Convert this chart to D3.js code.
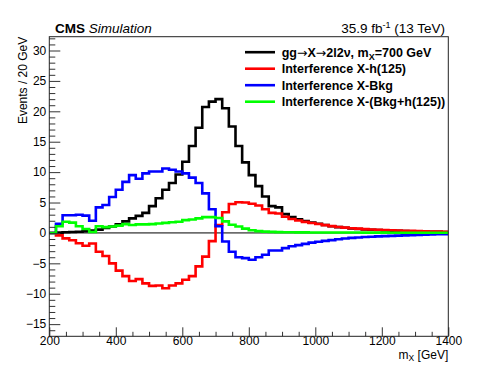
<!DOCTYPE html>
<html>
<head>
<meta charset="utf-8">
<script src="https://cdn.jsdelivr.net/npm/d3@7"></script>
<style>
  body { margin: 0; background: #fff; }
  svg { display: block; font-family: "Liberation Sans", Arial, Helvetica, sans-serif; }
</style>
</head>
<body>
<div class="chart"></div>
<script>
const W = 498
const H = 375
const margin = ({top: 36.7, right: 49.7, bottom: 38.7, left: 49.3})
const width = W - margin.left - margin.right
const height = H - margin.top - margin.bottom

// bins of 20 GeV from 200 to 1400
const binLow = 200
const binWidth = 20

const signal = [0, 0.05, 0.1, 0.15, 0.2, 0.27, 0.4, 0.55, 0.8, 1.05,
  1.4, 1.9, 2.4, 2.8, 3.3, 4.4, 5.7, 7.1, 8.2, 9.6,
  11.7, 14.3, 17.3, 20.7, 21.6, 22.0, 20.5, 17.5, 14.3, 11.6,
  9.5, 7.7, 6.0, 4.4, 4.2, 3.1, 2.6, 2.25, 1.95, 1.7,
  1.5, 1.3, 1.1, 0.95, 0.85, 0.75, 0.65, 0.58, 0.52, 0.47,
  0.42, 0.38, 0.34, 0.31, 0.28, 0.25, 0.22, 0.2, 0.18, 0.16]

const interfH = [0, -0.4, -0.9, -1.2, -1.7, -2.1, -1.75, -3.1, -3.8, -5.0,
  -6.2, -7.1, -7.9, -7.6, -8.3, -8.7, -8.65, -9.1, -8.65, -8.3,
  -7.7, -7.1, -5.5, -3.9, -1.35, 1.3, 3.4, 4.75, 5.05, 5.0,
  4.8, 4.5, 3.9, 3.3, 3.2, 2.65, 2.3, 2.05, 1.82, 1.64,
  1.47, 1.28, 1.12, 0.97, 0.87, 0.78, 0.7, 0.62, 0.57, 0.52,
  0.48, 0.44, 0.4, 0.36, 0.33, 0.3, 0.27, 0.24, 0.22, 0.2]

const interfBkg = [0, 1.5, 2.9, 2.9, 3.0, 2.85, 2.0, 4.2, 4.6, 5.9,
  7.1, 8.4, 9.5, 8.9, 9.8, 10.1, 10.1, 10.6, 10.4, 10.1,
  9.8, 9.1, 8.2, 6.5, 3.9, 1.1, -1.4, -3.1, -4.0, -4.15,
  -4.4, -4.0, -3.6, -2.9, -2.9, -2.5, -2.2, -2.0, -1.8, -1.6,
  -1.45, -1.3, -1.18, -1.05, -0.92, -0.82, -0.74, -0.68, -0.62, -0.57,
  -0.52, -0.48, -0.44, -0.4, -0.36, -0.32, -0.28, -0.25, -0.22, -0.2]

const interfBoth = [0, 1.1, 1.85, 1.7, 1.1, 0.65, 0.15, 1.1, 0.95, 1.05,
  1.2, 1.45, 1.3, 1.4, 1.4, 1.45, 1.55, 1.65, 1.75, 1.85,
  2.1, 2.2, 2.4, 2.6, 2.6, 2.45, 1.9, 1.35, 1.05, 0.7,
  0.45, 0.3, 0.22, 0.17, 0.14, 0.12, 0.1, 0.09, 0.09, 0.08,
  0.08, 0.07, 0.07, 0.07, 0.06, 0.06, 0.06, 0.05, 0.05, 0.05,
  0.05, 0.04, 0.04, 0.04, 0.04, 0.04, 0.03, 0.03, 0.03, 0.03]

const seriesNames = ["signal", "interfH", "interfBkg", "interfBoth"]
const seriesColors = ["#000000", "#ff0000", "#0000ff", "#00ff00"]
const seriesValues = [signal, interfH, interfBkg, interfBoth]

const xTicks = [200, 400, 600, 800, 1000, 1200, 1400]
const yTicks = [-15, -10, -5, 0, 5, 10, 15, 20, 25, 30]

const svg = d3.select(".chart").append("svg")
    .attr("width", W)
    .attr("height", H)

const g = svg.append("g")
    .attr("transform", `translate(${margin.left},${margin.top})`)

const xScale = d3.scaleLinear().domain([200, 1400]).range([0, width])
const yScale = d3.scaleLinear().domain([-17.0, 32.27]).range([height, 0])

svg.append("defs").append("clipPath").attr("id", "plot")
    .append("rect").attr("width", width).attr("height", height)

// zero line
g.append("line")
    .attr("x1", 0).attr("x2", width)
    .attr("y1", yScale(0)).attr("y2", yScale(0))
    .attr("stroke", "#000").attr("stroke-width", 1)

const stepLine = d3.line()
    .x(d => xScale(d[0]))
    .y(d => yScale(d[1]))
    .curve(d3.curveStepAfter)

const hists = g.append("g").attr("clip-path", "url(#plot)")
seriesValues.forEach((vals, k) => {
    const pts = vals.map((v, i) => [binLow + i*binWidth, v])
    pts.push([binLow + vals.length*binWidth, vals[vals.length-1]])
    hists.append("path")
        .datum(pts)
        .attr("class", seriesNames[k])
        .attr("fill", "none")
        .attr("stroke", seriesColors[k])
        .attr("stroke-width", 2.6)
        .attr("d", stepLine)
})

// axes, ticks inward as in ROOT
const fmt = d => d < 0 ? "\u2212" + Math.abs(d) : d
const yMinor = d3.range(-16, 33, 1).filter(d => d % 5 !== 0)
const xMinor = d3.range(250, 1400, 50).filter(d => d % 200 !== 0)

g.append("g")
    .call(d3.axisLeft(yScale).tickValues(yMinor).tickSize(-6).tickFormat(""))
g.append("g")
    .call(d3.axisLeft(yScale).tickValues(yTicks).tickSize(-11).tickPadding(3).tickFormat(fmt))
g.append("g")
    .attr("transform", `translate(0,${height})`)
    .call(d3.axisBottom(xScale).tickValues(xMinor).tickSize(-4.5).tickFormat(""))
g.append("g")
    .attr("transform", `translate(0,${height})`)
    .call(d3.axisBottom(xScale).tickValues(xTicks).tickSize(-9).tickPadding(0.5).tickFormat(d => d))

g.selectAll(".domain").remove()
g.selectAll(".tick line").attr("stroke", "#333")
g.selectAll(".tick text")
    .attr("font-size", 12)
    .attr("font-family", "'Liberation Sans', Arial, Helvetica, sans-serif")
    .attr("fill", "#000")

g.append("rect")
    .attr("width", width).attr("height", height)
    .attr("fill", "none").attr("stroke", "#222").attr("stroke-width", 1)

// axis titles
svg.append("text")
    .attr("transform", "rotate(-90)")
    .attr("x", -margin.top)
    .attr("y", 26.5)
    .attr("text-anchor", "end")
    .attr("font-size", 12)
    .text("Events / 20 GeV")

const xt = svg.append("text")
    .attr("x", margin.left + width)
    .attr("y", 358.5)
    .attr("text-anchor", "end")
    .attr("font-size", 12)
xt.append("tspan").text("m")
xt.append("tspan").attr("font-size", 8.5).attr("dy", 2.5).text("X")
xt.append("tspan").attr("dy", -2.5).text(" [GeV]")

// header
const cms = svg.append("text")
    .attr("x", 55).attr("y", 33)
    .attr("font-size", 13.5)
cms.append("tspan").attr("font-weight", "bold").text("CMS")
cms.append("tspan").attr("font-style", "italic").text(" Simulation")

const lumi = svg.append("text")
    .attr("x", 445).attr("y", 33)
    .attr("text-anchor", "end")
    .attr("font-size", 13.5)
lumi.append("tspan").text("35.9 fb")
lumi.append("tspan").attr("font-size", 9).attr("dy", -5).text("-1")
lumi.append("tspan").attr("dy", 5).text(" (13 TeV)")

// legend
const legendRows = [0, 1, 2, 3]
const legend = svg.selectAll(".leg")
    .data(legendRows)
    .enter()
    .append("g")
    .attr("transform", (d, i) => `translate(245, ${56.5 + i*16.5})`)

legend.append("line")
    .attr("x1", 0).attr("x2", 30)
    .attr("y1", -4.3).attr("y2", -4.3)
    .attr("stroke", d => seriesColors[d])
    .attr("stroke-width", 2.6)

const legText = legend.append("text")
    .attr("x", 36.7)
    .attr("font-size", 12.5)
    .attr("font-weight", "bold")

legText.filter(d => d === 0).each(function() {
    const t = d3.select(this)
    t.append("tspan").text("gg")
    t.append("tspan").attr("font-family", "'DejaVu Sans', sans-serif").attr("font-weight", "normal").text("\u2192")
    t.append("tspan").text("X")
    t.append("tspan").attr("font-family", "'DejaVu Sans', sans-serif").attr("font-weight", "normal").text("\u2192")
    t.append("tspan").text("2l2\u03bd, m")
    t.append("tspan").attr("font-size", 9).attr("dy", 3.5).text("X")
    t.append("tspan").attr("dy", -3.5).text("=700 GeV")
})
legText.filter(d => d === 1).text("Interference X-h(125)")
legText.filter(d => d === 2).text("Interference X-Bkg")
legText.filter(d => d === 3).text("Interference X-(Bkg+h(125))")
</script>
</body>
</html>
